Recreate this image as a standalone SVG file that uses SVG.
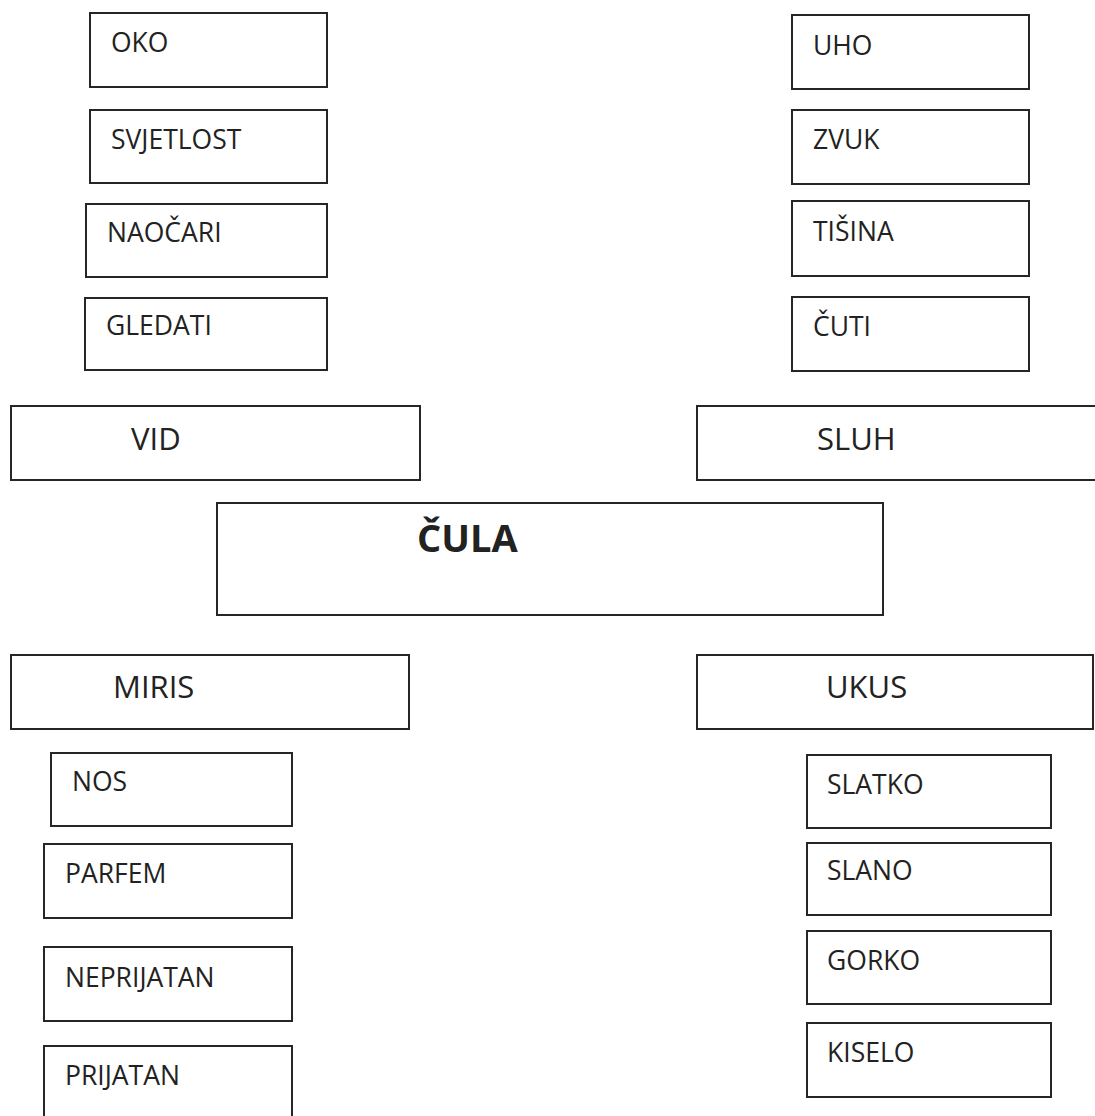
<svg xmlns="http://www.w3.org/2000/svg" width="1095" height="1116" viewBox="0 0 1095 1116">
<style>
rect{fill:#fff;stroke:#262626;stroke-width:2}
text{font-family:"Open Sans","DejaVu Sans",sans-serif;fill:#222}
.s{font-size:26.5px}
.m{font-size:31px}
.b{font-size:38px;font-weight:bold}
</style>
<rect x="0" y="0" width="1095" height="1116" style="stroke:none"/>
<g id="connectors"/>
<g id="oko"><rect x="90" y="13" width="237" height="74"/><text class="s" x="111" y="52">OKO</text></g>
<g id="svjetlost"><rect x="90" y="110" width="237" height="73"/><text class="s" x="111" y="149">SVJETLOST</text></g>
<g id="naocari"><rect x="86" y="204" width="241" height="73"/><text class="s" x="107" y="242">NAOČARI</text></g>
<g id="gledati"><rect x="85" y="298" width="242" height="72"/><text class="s" x="106" y="335">GLEDATI</text></g>
<g id="uho"><rect x="792" y="15" width="237" height="74"/><text class="s" x="813" y="55">UHO</text></g>
<g id="zvuk"><rect x="792" y="110" width="237" height="74"/><text class="s" x="813" y="149">ZVUK</text></g>
<g id="tisina"><rect x="792" y="201" width="237" height="75"/><text class="s" x="813" y="241">TIŠINA</text></g>
<g id="cuti"><rect x="792" y="297" width="237" height="74"/><text class="s" x="813" y="336">ČUTI</text></g>
<g id="vid"><rect x="11" y="406" width="409" height="74"/><text class="m" x="131" y="450">VID</text></g>
<g id="sluh"><rect x="697" y="406" width="410" height="74"/><text class="m" x="817" y="450">SLUH</text></g>
<g id="cula"><rect x="217" y="503" width="666" height="112"/><text class="b" x="417" y="552">ČULA</text></g>
<g id="miris"><rect x="11" y="655" width="398" height="74"/><text class="m" x="113" y="698">MIRIS</text></g>
<g id="ukus"><rect x="697" y="655" width="396" height="74"/><text class="m" x="826" y="698">UKUS</text></g>
<g id="nos"><rect x="51" y="753" width="241" height="73"/><text class="s" x="72" y="791">NOS</text></g>
<g id="parfem"><rect x="44" y="844" width="248" height="74"/><text class="s" x="65" y="883">PARFEM</text></g>
<g id="neprijatan"><rect x="44" y="947" width="248" height="74"/><text class="s" x="65" y="987">NEPRIJATAN</text></g>
<g id="prijatan"><rect x="44" y="1046" width="248" height="90"/><text class="s" x="65" y="1085">PRIJATAN</text></g>
<g id="slatko"><rect x="807" y="755" width="244" height="73"/><text class="s" x="827" y="794">SLATKO</text></g>
<g id="slano"><rect x="807" y="843" width="244" height="72"/><text class="s" x="827" y="880">SLANO</text></g>
<g id="gorko"><rect x="807" y="931" width="244" height="73"/><text class="s" x="827" y="970">GORKO</text></g>
<g id="kiselo"><rect x="807" y="1023" width="244" height="74"/><text class="s" x="827" y="1062">KISELO</text></g>
</svg>
